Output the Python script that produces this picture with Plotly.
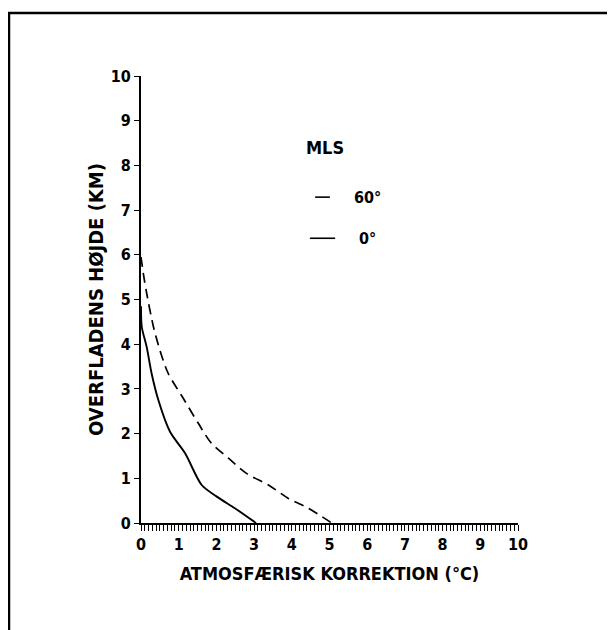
import plotly.graph_objects as go

# 0° curve (solid)
x_0deg = [0.0, 0.02, 0.15, 0.28, 0.46, 0.77, 1.17, 1.61, 2.01, 2.49, 3.05]
y_0deg = [4.85, 4.39, 3.94, 3.35, 2.75, 2.04, 1.56, 0.85, 0.59, 0.33, 0.0]

# 60° curve (dashed)
x_60deg = [0.0, 0.06, 0.15, 0.33, 0.50, 0.72, 1.12, 1.52, 1.87, 2.32, 2.80, 3.38, 3.91, 4.44, 5.06]
y_60deg = [5.95, 5.59, 5.14, 4.39, 3.87, 3.35, 2.79, 2.23, 1.78, 1.45, 1.11, 0.85, 0.55, 0.33, 0.0]

x_ticks = list(range(0, 11))
y_ticks = list(range(0, 11))

FONT = "Liberation Sans Narrow, Arial Narrow, DejaVu Sans Condensed, sans-serif"

fig = go.Figure()
fig.add_trace(go.Scatter(x=x_60deg, y=y_60deg, mode="lines", name="60°",
                         line=dict(color="black", width=1.7, dash="10px,6px", shape="spline", smoothing=0.8),
                         showlegend=False))
fig.add_trace(go.Scatter(x=x_0deg, y=y_0deg, mode="lines", name="0°",
                         line=dict(color="black", width=1.9, shape="spline", smoothing=0.8),
                         showlegend=False))

fig.update_layout(
    width=615, height=630,
    margin=dict(l=133, r=105, t=68, b=115),
    paper_bgcolor="white", plot_bgcolor="white",
    font=dict(family=FONT, color="black", size=16, weight="bold"),
    xaxis=dict(range=[0, 10], tickvals=x_ticks, ticktext=[str(v) for v in x_ticks],
               showgrid=False, zeroline=False, showline=True, linecolor="black", linewidth=2,
               ticks="outside", ticklen=6, tickwidth=1, tickcolor="black",
               minor=dict(dtick=0.1, ticks="outside", ticklen=6, tickwidth=1, tickcolor="black"),
               tickfont=dict(family=FONT, size=16, weight="bold"),
               title=dict(text="ATMOSFÆRISK KORREKTION (°C)", standoff=14,
                          font=dict(family=FONT, size=18, weight="bold"))),
    yaxis=dict(range=[0, 10], tickvals=y_ticks, ticktext=[str(v) for v in y_ticks],
               showgrid=False, zeroline=False, showline=True, linecolor="black", linewidth=2,
               ticks="outside", ticklen=5, tickwidth=1, tickcolor="black",
               tickfont=dict(family=FONT, size=16, weight="bold"),
               title=dict(text="OVERFLADENS HØJDE (KM)", standoff=2,
                          font=dict(family=FONT, size=20, weight="bold"))),
)

# legend drawn manually
fig.add_annotation(x=0.488, y=0.841, xref="paper", yref="paper", text="MLS", showarrow=False,
                   font=dict(family=FONT, size=18, weight="bold"), xanchor="center", yanchor="middle")
fig.add_annotation(x=0.560, y=0.729, xref="paper", yref="paper", text="60°", showarrow=False,
                   font=dict(family=FONT, size=16, weight="bold"), xanchor="left", yanchor="middle")
fig.add_annotation(x=0.573, y=0.637, xref="paper", yref="paper", text="0°", showarrow=False,
                   font=dict(family=FONT, size=16, weight="bold"), xanchor="left", yanchor="middle")
fig.add_shape(type="line", xref="paper", yref="paper", x0=0.462, x1=0.501, y0=0.729, y1=0.729,
              line=dict(color="black", width=1.6))
fig.add_shape(type="line", xref="paper", yref="paper", x0=0.448, x1=0.515, y0=0.637, y1=0.637,
              line=dict(color="black", width=1.6))

# page frame (top and left border)
fig.add_shape(type="line", xref="paper", yref="paper", x0=(8 - 141) / 377, x1=(640 - 141) / 377,
              y0=(523 - 13) / 447, y1=(523 - 13) / 447, line=dict(color="black", width=2.5))
fig.add_shape(type="line", xref="paper", yref="paper", x0=(9 - 141) / 377, x1=(9 - 141) / 377,
              y0=(523 - 12) / 447, y1=(523 - 650) / 447, line=dict(color="black", width=2.5))

fig.write_html("out.html")
